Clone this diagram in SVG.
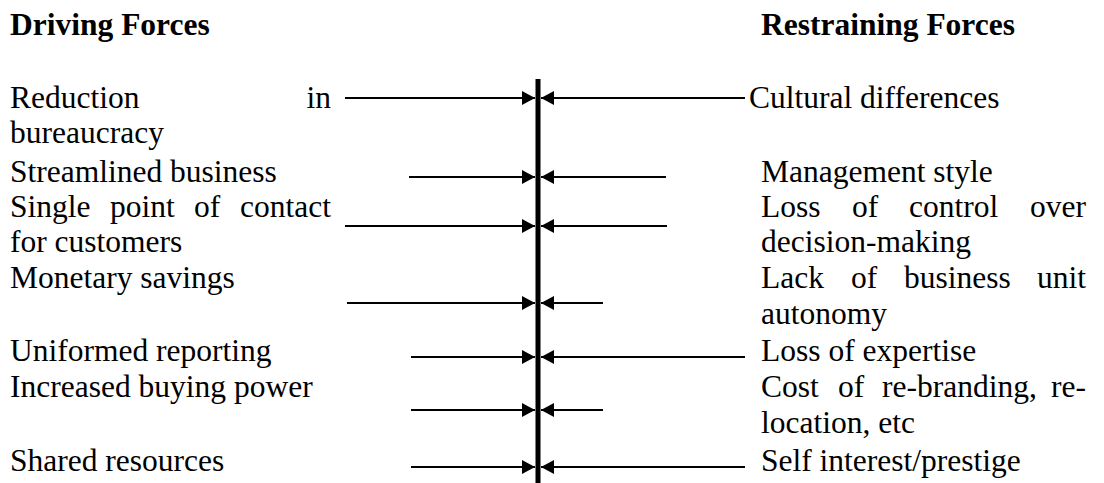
<svg xmlns="http://www.w3.org/2000/svg" width="1104" height="483" viewBox="0 0 1104 483">
<style>
  text { font-family: "Liberation Serif", "Times New Roman", serif; font-size: 31.5px; fill: #000; }
  .h { font-weight: bold; }
  .e { text-anchor: end; }
  .c { stroke: #000; stroke-width: 2; fill: none; marker-end: url(#ah); }
</style>
<defs>
  <marker id="ah" viewBox="0 0 13 14" refX="13" refY="7" markerWidth="13" markerHeight="14" markerUnits="userSpaceOnUse" orient="auto">
    <path d="M0,0 L13,7 L0,14 Z" fill="#000"/>
  </marker>
</defs>
<rect width="1104" height="483" fill="#fff"/>
<g id="headings">
  <text class="h" x="10" y="35">Driving Forces</text>
  <text class="h" x="761" y="35">Restraining Forces</text>
</g>
<g id="axis">
  <rect x="535.5" y="79" width="5" height="404" fill="#000"/>
</g>
<g id="driving">
  <g id="d1"><text x="10" y="108">Reduction</text><text class="e" x="331" y="108">in</text><text x="10" y="143">bureaucracy</text></g>
  <g id="d2"><text x="10" y="182">Streamlined business</text></g>
  <g id="d3"><text x="10" y="217">Single</text><text x="110" y="217">point</text><text x="194" y="217">of</text><text class="e" x="331" y="217">contact</text><text x="10" y="252">for customers</text></g>
  <g id="d4"><text x="10" y="288">Monetary savings</text></g>
  <g id="d5"><text x="10" y="361">Uniformed reporting</text></g>
  <g id="d6"><text x="10" y="397">Increased buying power</text></g>
  <g id="d7"><text x="10" y="471">Shared resources</text></g>
</g>
<g id="restraining">
  <g id="r1"><text x="749" y="108">Cultural differences</text></g>
  <g id="r2"><text x="761" y="182">Management style</text></g>
  <g id="r3"><text x="761" y="217">Loss</text><text x="852" y="217">of</text><text x="909" y="217">control</text><text class="e" x="1086" y="217">over</text><text x="761" y="252">decision-making</text></g>
  <g id="r4"><text x="761" y="288">Lack</text><text x="851" y="288">of</text><text x="904" y="288">business</text><text class="e" x="1086" y="288">unit</text><text x="761" y="324">autonomy</text></g>
  <g id="r5"><text x="761" y="361">Loss of expertise</text></g>
  <g id="r6"><text x="761" y="397">Cost</text><text x="838" y="397">of</text><text x="882" y="397">re-branding,</text><text class="e" x="1086" y="397">re-</text><text x="761" y="433">location, etc</text></g>
  <g id="r7"><text x="761" y="471">Self interest/prestige</text></g>
</g>
<g id="connectors">
  <line class="c" x1="345" y1="98" x2="535" y2="98"/>
  <line class="c" x1="745" y1="98" x2="541" y2="98"/>
  <line class="c" x1="409" y1="177" x2="535" y2="177"/>
  <line class="c" x1="666" y1="177" x2="541" y2="177"/>
  <line class="c" x1="345" y1="226" x2="535" y2="226"/>
  <line class="c" x1="667" y1="226" x2="541" y2="226"/>
  <line class="c" x1="347" y1="303" x2="535" y2="303"/>
  <line class="c" x1="603" y1="303" x2="541" y2="303"/>
  <line class="c" x1="411" y1="357" x2="535" y2="357"/>
  <line class="c" x1="745" y1="357" x2="541" y2="357"/>
  <line class="c" x1="411" y1="410" x2="535" y2="410"/>
  <line class="c" x1="603" y1="410" x2="541" y2="410"/>
  <line class="c" x1="411" y1="467" x2="535" y2="467"/>
  <line class="c" x1="745" y1="467" x2="541" y2="467"/>
</g>
</svg>
